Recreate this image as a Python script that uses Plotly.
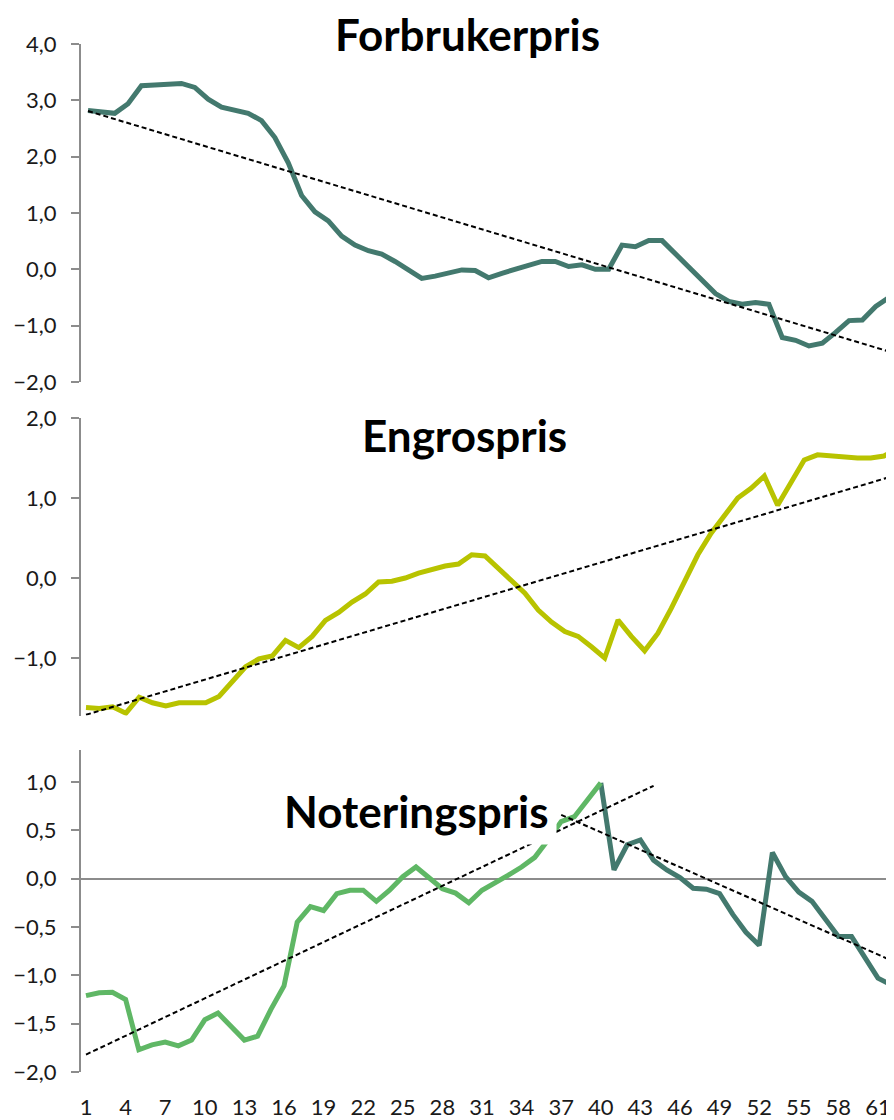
import plotly.graph_objects as go

# uke 1..62
weeks = list(range(1, 63))
x_ticks = [1, 4, 7, 10, 13, 16, 19, 22, 25, 28, 31, 34, 37, 40, 43, 46, 49, 52, 55, 58, 61]

forbruker = [2.82, 2.80, 2.77, 2.94, 3.26, 3.27, 3.29, 3.30, 3.23, 3.02,
             2.88, 2.83, 2.77, 2.64, 2.34, 1.89, 1.31, 1.02, 0.86, 0.59,
             0.43, 0.33, 0.27, 0.14, -0.01, -0.16, -0.12, -0.06, -0.01, -0.02,
             -0.15, -0.07, 0.00, 0.05, 0.14, 0.14, 0.05, 0.08, 0.00, 0.00,
             0.43, 0.40, 0.51, 0.51, 0.27, 0.04, -0.19, -0.43, -0.57, -0.62,
             -0.59, -0.62, -1.21, -1.26, -1.36, -1.31, -1.12, -0.91, -0.90, -0.66,
             -0.50, -0.50]

engros = [-1.62, -1.63, -1.61, -1.69, -1.49, -1.56, -1.60, -1.56, -1.56, -1.56,
          -1.48, -1.30, -1.11, -1.01, -0.975, -0.78, -0.87, -0.73, -0.53, -0.43,
          -0.30, -0.20, -0.05, -0.04, 0.00, 0.06, 0.11, 0.15, 0.175, 0.29,
          0.275, 0.12, -0.03, -0.19, -0.40, -0.55, -0.67, -0.73, -0.86, -1.00,
          -0.525, -0.73, -0.91, -0.69, -0.38, -0.05, 0.29, 0.56, 0.79, 1.00,
          1.12, 1.275, 0.91, 1.20, 1.475, 1.54, 1.525, 1.52, 1.50, 1.50,
          1.525, 1.62]

# noteringspris: to perioder
notering_weeks_1 = weeks[:40]
notering_1 = [-1.21, -1.18, -1.175, -1.25, -1.77, -1.72, -1.69, -1.73, -1.67, -1.46,
              -1.39, -1.53, -1.67, -1.63, -1.355, -1.11, -0.45, -0.29, -0.33, -0.155,
              -0.12, -0.12, -0.235, -0.12, 0.02, 0.12, 0.0, -0.105, -0.15, -0.25,
              -0.12, -0.045, 0.035, 0.12, 0.22, 0.40, 0.59, 0.64, 0.82, 0.99]
notering_weeks_2 = weeks[39:]
notering_2 = [0.99, 0.09, 0.35, 0.40, 0.19, 0.09, 0.01, -0.10, -0.11, -0.155,
              -0.37, -0.555, -0.69, 0.27, 0.02, -0.14, -0.235, -0.42, -0.60, -0.60,
              -0.81, -1.03, -1.10]

# trendlinjer (start/slutt lest av bildet)
trend_forbruker_x = [1, 62]
trend_forbruker_y = [2.81, -1.53]
trend_engros_x = [1, 62]
trend_engros_y = [-1.71, 1.29]
trend_not1_x = [1, 44]
trend_not1_y = [-1.82, 0.96]
trend_not2_x = [37, 62]
trend_not2_y = [0.66, -0.845]

TEAL = '#43796e'
LIME = '#b8c300'
GREEN = '#5fb765'
GREY = '#8c8c8c'
FONT = 'Lato'
W, H = 894, 1120
OFF = 8          # body margin of the html page
LEFT = 73        # plot area starts at page x = 81
PLOT_W = W - LEFT


def fy(ypix):
    # page pixel -> paper fraction
    return 1 - (ypix - OFF) / H


def fx(xpix):
    return (xpix - OFF - LEFT) / PLOT_W


fig = go.Figure()

line_w = 5
dash = dict(color='black', width=2, dash='5px,3px')
fig.add_trace(go.Scatter(x=weeks, y=forbruker, mode='lines',
                         line=dict(color=TEAL, width=line_w), xaxis='x', yaxis='y'))
fig.add_trace(go.Scatter(x=trend_forbruker_x, y=trend_forbruker_y, mode='lines',
                         line=dash, xaxis='x', yaxis='y'))

fig.add_trace(go.Scatter(x=weeks, y=engros, mode='lines',
                         line=dict(color=LIME, width=line_w), xaxis='x2', yaxis='y2'))
fig.add_trace(go.Scatter(x=trend_engros_x, y=trend_engros_y, mode='lines',
                         line=dash, xaxis='x2', yaxis='y2'))

fig.add_trace(go.Scatter(x=notering_weeks_2, y=notering_2, mode='lines',
                         line=dict(color=TEAL, width=line_w), xaxis='x3', yaxis='y3'))
fig.add_trace(go.Scatter(x=notering_weeks_1, y=notering_1, mode='lines',
                         line=dict(color=GREEN, width=line_w), xaxis='x3', yaxis='y3'))
fig.add_trace(go.Scatter(x=trend_not1_x, y=trend_not1_y, mode='lines',
                         line=dash, xaxis='x3', yaxis='y3'))
fig.add_trace(go.Scatter(x=trend_not2_x, y=trend_not2_y, mode='lines',
                         line=dash, xaxis='x3', yaxis='y3'))

tick_font = dict(family=FONT, size=22, color='#1a1a1a')
yaxis_style = dict(showline=True, linecolor=GREY, linewidth=2, ticks='outside',
                   ticklen=8, tickwidth=2, tickcolor=GREY, showgrid=False,
                   zeroline=False, tickformat='.1f', ticklabelstandoff=10,
                   automargin=False, tickfont=tick_font)
xaxis_hidden = dict(visible=False, showgrid=False, zeroline=False, automargin=False)

fig.update_layout(
    template='none',
    width=W, height=H,
    margin=dict(l=LEFT, r=0, t=0, b=0, autoexpand=False),
    paper_bgcolor='white', plot_bgcolor='white',
    showlegend=False,
    separators=', ',
    xaxis=dict(domain=[0, 1], range=[0.476, 61.97], anchor='y', **xaxis_hidden),
    xaxis2=dict(domain=[0, 1], range=[0.624, 62.35], anchor='y2', **xaxis_hidden),
    xaxis3=dict(domain=[0, 1], range=[0.621, 62.82], anchor='y3', showgrid=False,
                zeroline=False, showline=False, tickmode='array', tickvals=x_ticks,
                ticks='outside', ticklen=16, tickcolor='rgba(0,0,0,0)',
                automargin=False, tickfont=tick_font),
    yaxis=dict(domain=[fy(382), fy(44)], range=[-2, 4], dtick=1,
               anchor='x', **yaxis_style),
    yaxis2=dict(domain=[fy(715.6), fy(418)], range=[-1.72, 2.0], dtick=1,
                anchor='x2', **yaxis_style),
    yaxis3=dict(domain=[fy(1072), fy(750)], range=[-2, 1.33], dtick=0.5,
                anchor='x3', **{**yaxis_style, 'zeroline': True,
                                'zerolinecolor': GREY, 'zerolinewidth': 2}),
)

title_font = dict(family=FONT, size=44, color='black')
fig.add_annotation(text='<b>Forbrukerpris</b>', xref='paper', yref='paper',
                   x=fx(467), y=fy(34), xanchor='center', yanchor='middle',
                   showarrow=False, font=title_font)
fig.add_annotation(text='<b>Engrospris</b>', xref='paper', yref='paper',
                   x=fx(464.5), y=fy(435), xanchor='center', yanchor='middle',
                   showarrow=False, font=title_font)
fig.add_annotation(text='<b>Noteringspris</b>', xref='paper', yref='paper',
                   x=fx(416.5), y=fy(811), xanchor='center', yanchor='middle',
                   showarrow=False, font=title_font, bgcolor='white', borderpad=7)

fig.write_html("out.html")
